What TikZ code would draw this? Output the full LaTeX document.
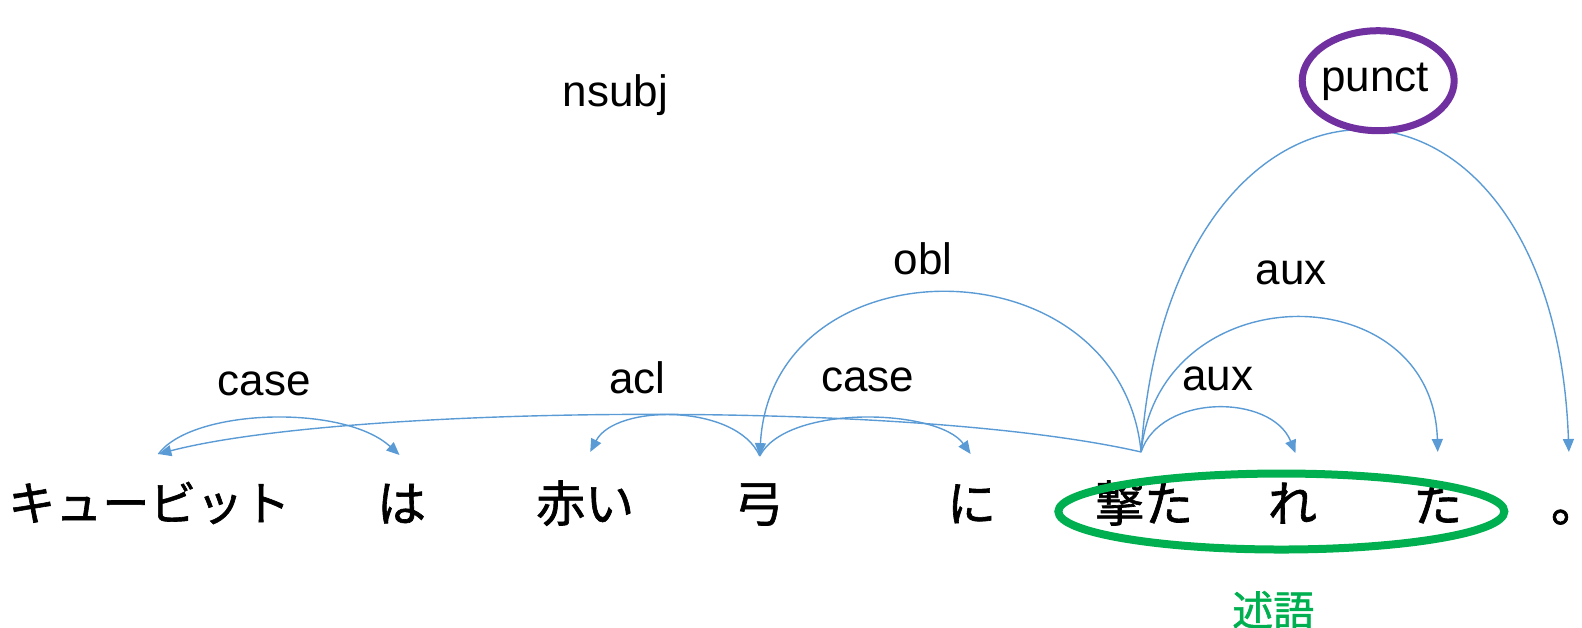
\documentclass[tikz,border=0pt]{standalone}
\usepackage{fontspec}
\setmainfont{Liberation Sans}
\newfontfamily\jpfont[FakeBold=1.3]{Noto Sans CJK JP}
\usetikzlibrary{arrows.meta,shapes.geometric}
\definecolor{arcblue}{RGB}{91,155,213}
\definecolor{predgreen}{RGB}{0,176,80}
\definecolor{punctpurple}{RGB}{112,48,160}
\begin{document}
\begin{tikzpicture}[x=1.009pt,y=-1.009pt,
  word/.style={font=\jpfont\fontsize{49}{49}\selectfont, inner sep=0pt, anchor=base},
  lab/.style={font=\fontsize{44}{44}\selectfont, inner sep=0pt, anchor=base},
  dep/.style={draw=arcblue, line width=1.4pt, -{Triangle[length=13pt,width=11pt]}},
  ring/.style={ellipse, inner sep=0pt},
]
\useasboundingbox (0,0) rectangle (1568,622);
% words
\node[word, font=\jpfont\fontsize{47}{47}\selectfont] (kyu) at (148,516) {キュービット};
\node[word] (ha) at (398,517) {は};
\node[word] (akai) at (580,517) {赤い};
\node[word] (yumi) at (752,517) {弓};
\node[word] (ni) at (963,517) {に};
\node[word] (uta) at (1134,517) {撃た};
\node[word] (re) at (1281,517) {れ};
\node[word] (ta) at (1425,517) {た};
\node[word, anchor=base west] (maru) at (1537,517) {\makebox[0.42em][l]{。}};
% attach points
\coordinate (kyuA) at (157,450);
\coordinate (haA) at (396,451);
\coordinate (akaiA) at (585,448);
\coordinate (yumiA) at (753,452);
\coordinate (niA) at (962,450);
\coordinate (utaA) at (1131,448);
\coordinate (reA) at (1284,449);
\coordinate (taA) at (1425,448);
\coordinate (maruA) at (1555,448);
% arcs
\draw[dep] (kyuA) .. controls (190,405) and (340,400) .. (haA);
\draw[dep] (utaA) .. controls (900,395) and (340,402) .. (kyuA);
\draw[dep] (yumiA) .. controls (730,400) and (610,400) .. (akaiA);
\draw[dep] (yumiA) .. controls (780,400) and (930,405) .. (niA);
\draw[dep] (utaA) .. controls (1110,237) and (765,237) .. (yumiA);
\draw[dep] (utaA) .. controls (1150,390) and (1260,390) .. (reA);
\draw[dep] (utaA) .. controls (1150,271) and (1420,271) .. (taA);
\draw[dep] (utaA) .. controls (1160,24) and (1540,24) .. (maruA);
% rings
\node[ring, draw=predgreen, line width=8pt, minimum width=446pt, minimum height=76pt] (pred) at (1270,507) {};
\node[ring, draw=punctpurple, fill=white, line width=7pt, minimum width=152pt, minimum height=100pt] (pring) at (1366,80) {};
% labels
\node[lab] (lcase1) at (262,392) {case};
\node[lab] (lnsubj) at (610,106) {nsubj};
\node[lab] (lacl) at (632,390) {acl};
\node[lab] (lcase2) at (860,388) {case};
\node[lab] (lobl) at (915,272) {obl};
\node[lab] (laux2) at (1280,282) {aux};
\node[lab] (laux1) at (1207,387) {aux};
\node[lab] (lpunct) at (1363,91) {punct};
\node[lab, text=predgreen, font=\jpfont\fontsize{41}{41}\selectfont] (lpred) at (1262,620) {述語};
\end{tikzpicture}
\end{document}
